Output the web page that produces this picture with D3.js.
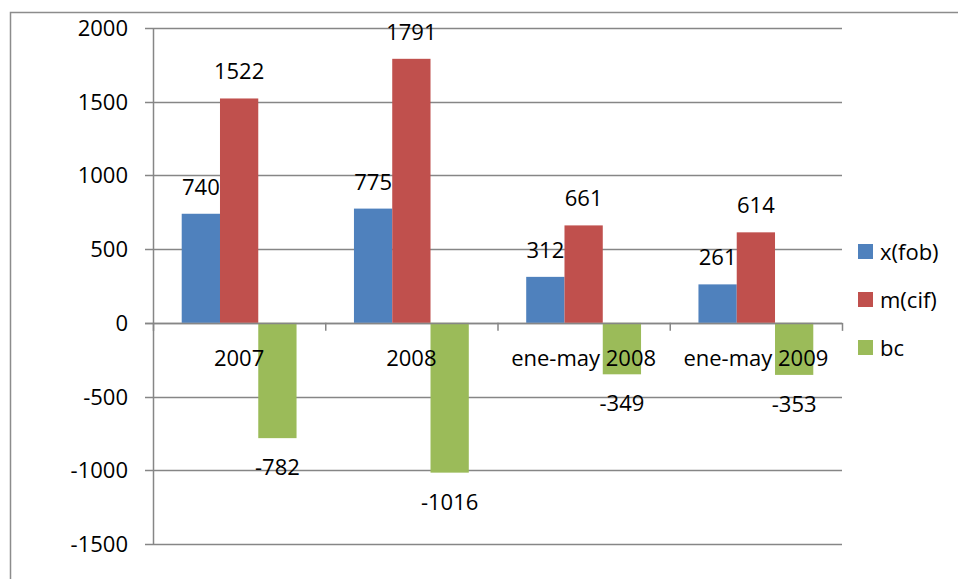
<!DOCTYPE html>
<html>
<head>
<meta charset="utf-8">
<script src="https://cdn.jsdelivr.net/npm/d3@7"></script>
<style>
  body { margin: 0; background: #fff; }
  text { font-family: "Open Sans", "Noto Sans", sans-serif; fill: #000; }
</style>
</head>
<body>
<svg width="958" height="579"></svg>
<script>
var categories = ['2007', '2008', 'ene-may 2008', 'ene-may 2009'];
var seriesNames = ['x(fob)', 'm(cif)', 'bc'];
var xfob = [740, 775, 312, 261];
var mcif = [1522, 1791, 661, 614];
var bc = [-782, -1016, -349, -353];
var yTicks = [2000, 1500, 1000, 500, 0, -500, -1000, -1500];
var colors = ['#4F81BD', '#C0504D', '#9BBB59'];

var svg = d3.select('svg');
var plot = {left: 153, right: 842, top: 28, bottom: 544};
var fs = 22;

// chart frame (open to the right and bottom like the screenshot)
svg.append('rect')
  .attr('x', 10.5).attr('y', 12.5)
  .attr('width', 1000).attr('height', 1000)
  .attr('fill', 'none').attr('stroke', '#8c8c8c').attr('stroke-width', 1.5);

var x = d3.scaleBand().domain(categories).range([plot.left, plot.right]);
var y = d3.scaleLinear().domain([-1500, 2000]).range([plot.bottom, plot.top]);
// bars: gap width 150%
var barW = x.bandwidth() / 4.5;
var x1 = d3.scaleBand().domain(seriesNames)
  .range([barW * 0.75, barW * 0.75 + barW * 3]);

// gridlines
svg.append('g').selectAll('line')
  .data(yTicks)
  .enter().append('line')
  .attr('x1', plot.left - 8).attr('x2', plot.right)
  .attr('y1', function(d) { return Math.round(y(d)) + 0.5; })
  .attr('y2', function(d) { return Math.round(y(d)) + 0.5; })
  .attr('stroke', '#868686').attr('stroke-width', 1.5);

svg.append('line')
  .attr('x1', plot.left + 0.5).attr('x2', plot.left + 0.5)
  .attr('y1', plot.top).attr('y2', plot.bottom)
  .attr('stroke', '#868686').attr('stroke-width', 1.5);

// y tick labels
svg.append('g').selectAll('text')
  .data(yTicks)
  .enter().append('text')
  .attr('x', plot.left - 25)
  .attr('y', function(d) { return y(d) + 8; })
  .attr('text-anchor', 'end')
  .attr('font-size', fs)
  .text(function(d) { return d; });

var rows = categories.map(function(c, i) {
  return {cat: c, vals: [xfob[i], mcif[i], bc[i]]};
});

var groups = svg.append('g').selectAll('g')
  .data(rows)
  .enter().append('g')
  .attr('transform', function(d) { return 'translate(' + x(d.cat) + ',0)'; });

groups.selectAll('rect')
  .data(function(d) { return d.vals.map(function(v, j) { return {k: seriesNames[j], v: v, j: j}; }); })
  .enter().append('rect')
  .attr('x', function(d) { return x1(d.k); })
  .attr('width', x1.bandwidth())
  .attr('y', function(d) { return y(Math.max(0, d.v)); })
  .attr('height', function(d) { return Math.abs(y(d.v) - y(0)); })
  .attr('fill', function(d) { return colors[d.j]; });

// zero axis line + category ticks
svg.append('line')
  .attr('x1', plot.left - 8).attr('x2', plot.right)
  .attr('y1', Math.round(y(0)) + 0.5).attr('y2', Math.round(y(0)) + 0.5)
  .attr('stroke', '#868686').attr('stroke-width', 1.5);
svg.append('g').selectAll('line')
  .data(categories.concat(['end']))
  .enter().append('line')
  .attr('x1', function(d, i) { return plot.left + i * x.bandwidth() + 0.5; })
  .attr('x2', function(d, i) { return plot.left + i * x.bandwidth() + 0.5; })
  .attr('y1', y(0)).attr('y2', y(0) + 8)
  .attr('stroke', '#868686').attr('stroke-width', 1.5);

// value labels
groups.selectAll('text.val')
  .data(function(d) { return d.vals.map(function(v, j) { return {k: seriesNames[j], v: v}; }); })
  .enter().append('text')
  .attr('class', 'val')
  .attr('x', function(d) { return x1(d.k) + x1.bandwidth() / 2; })
  .attr('y', function(d) { return d.v >= 0 ? y(d.v) - 19 : y(d.v) + 37; })
  .attr('text-anchor', 'middle')
  .attr('font-size', fs)
  .text(function(d) { return d.v; });

// category labels
svg.append('g').selectAll('text')
  .data(categories)
  .enter().append('text')
  .attr('x', function(d) { return x(d) + x.bandwidth() / 2; })
  .attr('y', y(0) + 43)
  .attr('text-anchor', 'middle')
  .attr('font-size', fs)
  .text(function(d) { return d; });

// legend
var legend = svg.append('g').selectAll('g')
  .data(seriesNames)
  .enter().append('g')
  .attr('transform', function(d, i) { return 'translate(858,' + (244 + i * 48) + ')'; });
legend.append('rect')
  .attr('width', 15).attr('height', 15)
  .attr('fill', function(d, i) { return colors[i]; });
legend.append('text')
  .attr('x', 22).attr('y', 16)
  .attr('font-size', fs)
  .text(function(d) { return d; });
</script>
</body>
</html>
